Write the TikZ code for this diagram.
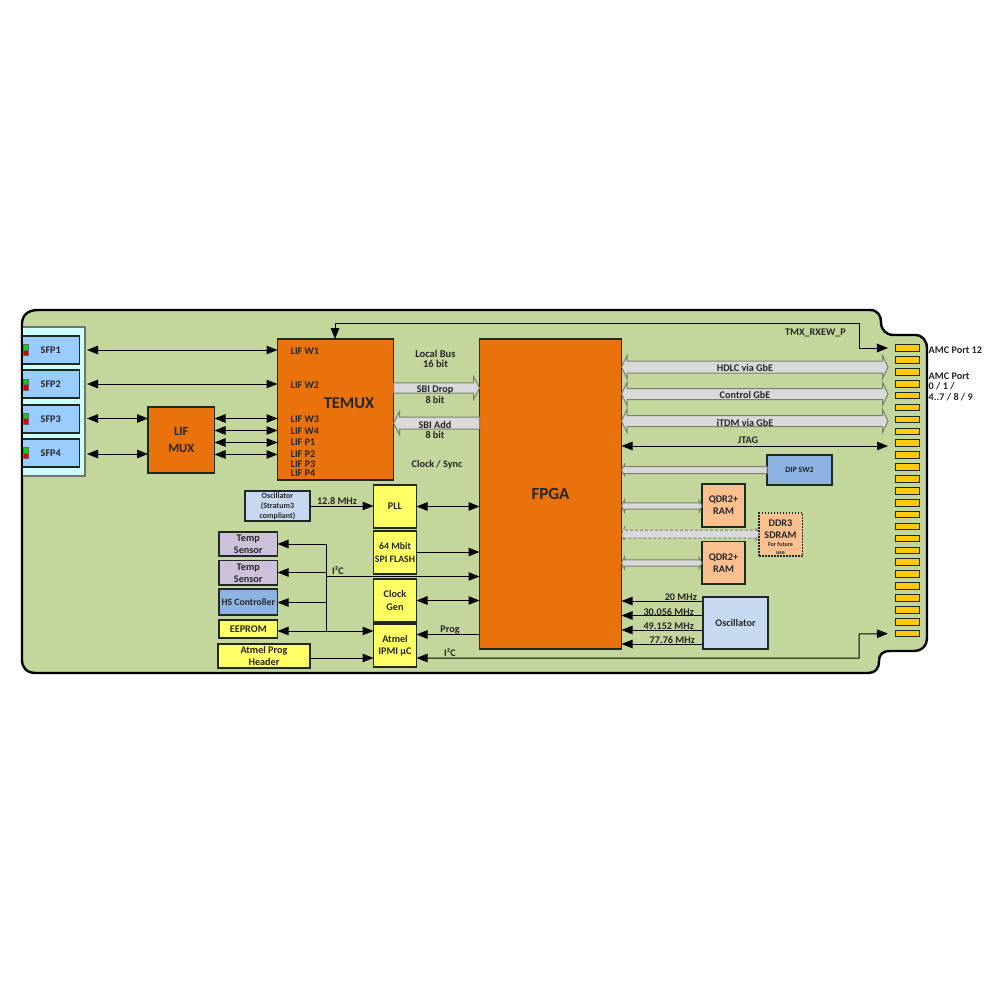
\documentclass[tikz,border=0pt]{standalone}
\usepackage{fontspec}
\setmainfont{Carlito}
\usetikzlibrary{arrows.meta,calc}
\definecolor{boardgreen}{HTML}{C3D69B}
\definecolor{panelcyan}{HTML}{CCFFFF}
\definecolor{sfpblue}{HTML}{99CCFF}
\definecolor{chiporange}{HTML}{E9720C}
\definecolor{chipyellow}{HTML}{FFFF66}
\definecolor{oscblue}{HTML}{C6D9F1}
\definecolor{hsblue}{HTML}{8DB3E2}
\definecolor{templilac}{HTML}{CCC0DA}
\definecolor{ramorange}{HTML}{FAC090}
\definecolor{padgold}{HTML}{FFC90E}
\definecolor{fatgray}{HTML}{D9D9D9}
\definecolor{fatedge}{HTML}{7A7F6E}
\definecolor{edgedark}{HTML}{1E2A20}
\tikzset{
  boxbase/.style={draw=edgedark,line width=1.1pt,inner sep=0pt,outer sep=0pt,align=center,font=\bfseries\fontsize{10.2}{11}\selectfont,text=black!85},
  sfpbox/.style={boxbase,fill=sfpblue},
  orangebox/.style={boxbase,fill=chiporange},
  yellowbox/.style={boxbase,fill=chipyellow},
  oscbox/.style={boxbase,fill=oscblue},
  lilacbox/.style={boxbase,fill=templilac},
  hsbox/.style={boxbase,fill=hsblue},
  rambox/.style={boxbase,fill=ramorange},
  futurebox/.style={boxbase,fill=ramorange,line width=1.2pt,dash pattern=on 1.5pt off 1.5pt},
  panelbox/.style={boxbase,fill=panelcyan,draw=black!55},
  padbox/.style={boxbase,fill=padgold,line width=1pt},
  ledgreen/.style={fill=green!85!black,draw=black!60,line width=.5pt},
  ledred/.style={fill=red!85!black,draw=black!60,line width=.5pt},
  sig/.style={line width=1pt,draw=black},
  tipr/.style={sig,-{Triangle[length=11pt,width=8.5pt]}},
  tipb/.style={sig,{Triangle[length=11pt,width=8.5pt]}-{Triangle[length=11pt,width=8.5pt]}},
  lbl/.style={inner sep=0pt,font=\bfseries\fontsize{10.2}{11}\selectfont,text=black!85},
  lifl/.style={lbl,anchor=west},
  fatstyle/.style={fill=fatgray,draw=fatedge,line width=1pt},
  fatdash/.style={fill=fatgray,draw=fatedge,line width=1pt,dash pattern=on 3pt off 2pt},
}
% a box given by its corners
\newcommand\bx[7]{%
  \pgfmathsetmacro\bw{#4-#2}\pgfmathsetmacro\bh{#5-#3}%
  \pgfmathsetmacro\cx{(#4+#2)/2}\pgfmathsetmacro\cy{(#5+#3)/2}%
  \node[#6,minimum width=\bw pt,minimum height=\bh pt] (#1) at (\cx,\cy) {#7};}
% fat arrows: start, end, half band, half head, head length, style
\newcommand\fatboth[6]{\path[#6] let \p1=#1,\p2=#2 in
  (\x1,\y1) -- (\x1+#5pt,\y1+#4pt) -- (\x1+#5pt,\y1+#3pt) -- (\x2-#5pt,\y2+#3pt) -- (\x2-#5pt,\y2+#4pt) --
  (\x2,\y2) -- (\x2-#5pt,\y2-#4pt) -- (\x2-#5pt,\y2-#3pt) -- (\x1+#5pt,\y1-#3pt) -- (\x1+#5pt,\y1-#4pt) -- cycle;}
\newcommand\fatto[6]{\path[#6] let \p1=#1,\p2=#2 in
  (\x1,\y1+#3pt) -- (\x2-#5pt,\y2+#3pt) -- (\x2-#5pt,\y2+#4pt) -- (\x2,\y2) --
  (\x2-#5pt,\y2-#4pt) -- (\x2-#5pt,\y2-#3pt) -- (\x1,\y1-#3pt) -- cycle;}
\newcommand\fatfrom[6]{\path[#6] let \p1=#1,\p2=#2 in
  (\x1,\y1+#3pt) -- (\x2+#5pt,\y2+#3pt) -- (\x2+#5pt,\y2+#4pt) -- (\x2,\y2) --
  (\x2+#5pt,\y2-#4pt) -- (\x2+#5pt,\y2-#3pt) -- (\x1,\y1-#3pt) -- cycle;}
\begin{document}
\begin{tikzpicture}[x=1pt,y=-1pt]
\useasboundingbox (0,0) rectangle (1000,1000);
\fill[white] (0,0) rectangle (1000,1000);
% board
\draw[fill=boardgreen,draw=black,line width=2.4pt,line join=round]
  (38,310) -- (870,310) .. controls (878,310) and (881,316) .. (881,322)
  .. controls (881,330) and (886,335) .. (894,335) -- (915,335)
  .. controls (923,335) and (927,341) .. (927,349) -- (927,637)
  .. controls (927,646) and (922,651) .. (913,651) -- (890,651)
  .. controls (882,651) and (879,655) .. (879,661) .. controls (879,669) and (875,673) .. (868,673)
  -- (36,673) .. controls (27,673) and (22,668) .. (22,660) -- (22,324)
  .. controls (22,315) and (28,310) .. (38,310) -- cycle;
% SFP cage
\bx{panel}{22}{327}{85}{476}{panelbox}{}
\bx{sfp1}{22}{336}{79.5}{364}{sfpbox}{SFP1}
\bx{sfp2}{22}{370}{79.5}{398}{sfpbox}{SFP2}
\bx{sfp3}{22}{405}{79.5}{433}{sfpbox}{SFP3}
\bx{sfp4}{22}{439}{79.5}{467}{sfpbox}{SFP4}
\foreach \ly in {344.5,379,413,447.5}{
  \draw[ledgreen] (23,\ly) rectangle (28,\ly+5.5);
  \draw[ledred] (23,\ly+5.5) rectangle (28,\ly+11);
}
\draw[black,line width=2.4pt] (22,325) -- (22,480);
% main blocks
\bx{mux}{148}{407}{214.5}{473}{orangebox,font=\bfseries\fontsize{12.5}{16.5}\selectfont}{LIF\\MUX}
\bx{temux}{277.5}{339}{393.5}{480}{orangebox}{}
\bx{fpga}{479.5}{339}{621.5}{649}{orangebox,font=\bfseries\fontsize{17}{18}\selectfont}{FPGA}
\node[lbl,font=\bfseries\fontsize{16.5}{18}\selectfont] (temuxt) at (349,403) {TEMUX};
\foreach \nm/\ty/\tx in {a/351/LIF W1,b/385.5/LIF W2,c/419/LIF W3,d/431/LIF W4,e/442.5/LIF P1,f/454.5/LIF P2,g/464/LIF P3,h/473.5/LIF P4}
  \node[lifl] (lif\nm) at (290.5,\ty) {\tx};
\bx{pll}{373.5}{485}{416.5}{528}{yellowbox}{PLL}
\bx{spi}{373.5}{531}{416.5}{574}{yellowbox,font=\bfseries\fontsize{9.8}{12.5}\selectfont}{64 Mbit\\SPI FLASH}
\bx{clk}{373.5}{579}{416.5}{622}{yellowbox,font=\bfseries\fontsize{10.2}{12.5}\selectfont}{Clock\\Gen}
\bx{ipmi}{373.5}{624}{416.5}{667}{yellowbox,font=\bfseries\fontsize{10.2}{12.5}\selectfont}{Atmel\\IPMI µC}
\bx{oscs}{245}{491}{310}{521}{oscbox,font=\bfseries\fontsize{8}{10}\selectfont}{Oscillator\\(Stratum3\\compliant)}
\bx{temp1}{219}{532}{277.5}{556}{lilacbox,font=\bfseries\fontsize{10.2}{12}\selectfont}{Temp\\Sensor}
\bx{temp2}{219}{560.5}{277.5}{585}{lilacbox,font=\bfseries\fontsize{10.2}{12}\selectfont}{Temp\\Sensor}
\bx{hs}{219}{589}{277.5}{615}{hsbox,font=\bfseries\fontsize{9.7}{11}\selectfont}{HS Controller}
\bx{eeprom}{219}{620}{277.5}{638}{yellowbox}{EEPROM}
\bx{prog}{218}{644}{310}{668}{yellowbox,font=\bfseries\fontsize{10.2}{12}\selectfont}{Atmel Prog\\Header}
\bx{dip}{767}{455}{832}{485}{hsbox,font=\bfseries\fontsize{8}{10}\selectfont}{DIP SW2}
\bx{qdra}{702}{484}{745}{527}{rambox,font=\bfseries\fontsize{10.2}{12}\selectfont}{QDR2+\\RAM}
\bx{qdrb}{702}{541.5}{745}{584}{rambox,font=\bfseries\fontsize{10.2}{12}\selectfont}{QDR2+\\RAM}
\bx{ddr}{759}{513}{802.5}{556}{futurebox}{}
\node[lbl] (ddra) at (780.5,523) {DDR3};
\node[lbl] (ddrb) at (780.5,535) {SDRAM};
\node[lbl,font=\bfseries\fontsize{6}{7}\selectfont] (ddrc) at (780.5,544.5) {For future};
\node[lbl,font=\bfseries\fontsize{6}{7}\selectfont] (ddrd) at (780.5,553) {use};
\bx{osc}{703}{597}{768}{649}{oscbox}{Oscillator}
% edge connector
\foreach \i in {1,...,25}{
  \pgfmathsetmacro\py{348+(\i-1)*11.9}
  \node[padbox,minimum width=23.5pt,minimum height=6.6pt] (pad\i) at (907.7,\py) {};
}
% named anchors on the right
\coordinate (hdlcr) at (888,367);
\coordinate (ctrlr) at (888,394);
\coordinate (itdmr) at (888,421);
\coordinate (jtagr) at (888,446);
\coordinate (topbend) at (859,348);
\coordinate (botbend) at (859,634);
\coordinate (busa) at (326,544);
\coordinate (busb) at (326,572.5);
\coordinate (busc) at (326,602.5);
\coordinate (busd) at (326,631);
\coordinate (bust) at (326,576.5);
% SFP links
\draw[tipb] (panel.east |- sfp1) ++(2,0) -- (temux.west |- sfp1);
\draw[tipb] (panel.east |- sfp2) ++(2,0) -- (temux.west |- sfp2);
\draw[tipb] (87,418.5) -- (mux.west |- 0,418.5);
\draw[tipb] (87,454) -- (mux.west |- 0,454);
\foreach \ay in {418.5,430.5,442.5,454.5}
  \draw[tipb] (mux.east |- 0,\ay) -- (temux.west |- 0,\ay);
% top line
\draw[tipr] (pad1.west) ++(-8,0) coordinate (padtip) (topbend) -- (padtip);
\draw[tipr] (topbend) -- (859,323.5) -- (335,323.5) -- (temux.north -| 335,0);
% local bus
\fatto{(temux.east |- 0,388)}{(fpga.west |- 0,388)}{5.2}{11.5}{6}{fatstyle}
\fatfrom{(fpga.west |- 0,423)}{(temux.east |- 0,423)}{6}{11.5}{6}{fatstyle}
% fat links on right
\fatboth{(fpga.east |- hdlcr)}{(hdlcr)}{6}{11.5}{5.5}{fatstyle}
\fatboth{(fpga.east |- ctrlr)}{(ctrlr)}{5.5}{11.5}{5.5}{fatstyle}
\fatboth{(fpga.east |- itdmr)}{(itdmr)}{5.5}{11.5}{5.5}{fatstyle}
\draw[tipb] (fpga.east |- jtagr) -- (jtagr);
\fatfrom{(dip.west)}{(fpga.east |- dip.west)}{3.5}{5.5}{3}{fatstyle}
\fatboth{(fpga.east |- 0,506)}{(qdra.west |- 0,506)}{3.2}{6}{3}{fatstyle}
\fatboth{(fpga.east |- 0,563)}{(qdrb.west |- 0,563)}{3.2}{6}{3}{fatstyle}
\fatboth{(fpga.east |- 0,534)}{(ddr.west |- 0,534)}{4}{6.5}{3}{fatdash}
% oscillator lines
\foreach \ay in {601,615.5,630,644}
  \draw[tipr] (osc.west |- 0,\ay) -- (fpga.east |- 0,\ay);
% mid column
\draw[tipr] (oscs.east) -- (pll.west |- oscs.east);
\draw[tipb] (pll.east) -- (fpga.west |- pll.east);
\draw[tipr] (spi.east |- 0,552) -- (fpga.west |- 0,552);
\draw[tipb] (clk.east) -- (fpga.west |- clk.east);
\draw[tipr] (fpga.west |- 0,634.5) -- (ipmi.east |- 0,634.5);
\draw[tipr] (prog.east |- 0,658) -- (ipmi.west |- 0,658);
% I2C bus
\draw[sig] (busa) -- (busd);
\draw[tipr] (busa) -- (temp1.east |- busa);
\draw[tipr] (busb) -- (temp2.east |- busb);
\draw[tipr] (busc) -- (hs.east |- busc);
\draw[tipb] (eeprom.east |- busd) -- (ipmi.west |- busd);
\draw[tipr] (bust) -- (fpga.west |- bust);
% bottom I2C line
\draw[tipb] (ipmi.east |- 0,658) -- (859,658) -- (botbend) -- ($(pad25.west)+(-8,0)$);
% labels
\node[lbl,align=center,font=\bfseries\fontsize{10.5}{10.5}\selectfont] (lbus) at (435.5,359) {Local Bus\\16 bit};
\node[lbl] (sbia) at (435,390) {SBI Drop};
\node[lbl] (sbib) at (435,399.5) {8 bit};
\node[lbl] (sbic) at (435,425) {SBI Add};
\node[lbl] (sbid) at (435,435) {8 bit};
\node[lbl] (csync) at (437,465) {Clock / Sync};
\node[lbl] (f128) at (337,501) {12.8 MHz};
\node[lbl] (ii1) at (338,571) {I²C};
\node[lbl] (ii2) at (450,653) {I²C};
\node[lbl] (lprog) at (450,630) {Prog};
\node[lbl,anchor=east] (trx) at (846,333) {TMX\_RXEW\_P};
\node[lbl] (lh) at (745,368) {HDLC via GbE};
\node[lbl] (lc) at (745,395) {Control GbE};
\node[lbl] (li) at (745,422.5) {iTDM via GbE};
\node[lbl] (lj) at (748,440.5) {JTAG};
\node[lbl,anchor=east] (m1) at (697,597.5) {20 MHz};
\node[lbl,anchor=east] (m2) at (694,612) {30.056 MHz};
\node[lbl,anchor=east] (m3) at (694,626) {49.152 MHz};
\node[lbl,anchor=east] (m4) at (695,640) {77.76 MHz};
\node[lbl,anchor=west] (amc1) at (928.5,350.5) {AMC Port 12};
\node[lbl,anchor=west] (amc2) at (928.5,376) {AMC Port};
\node[lbl,anchor=west] (amc3) at (928.5,386.5) {0 / 1 /};
\node[lbl,anchor=west] (amc4) at (928.5,397) {4..7 / 8 / 9};
\end{tikzpicture}
\end{document}
